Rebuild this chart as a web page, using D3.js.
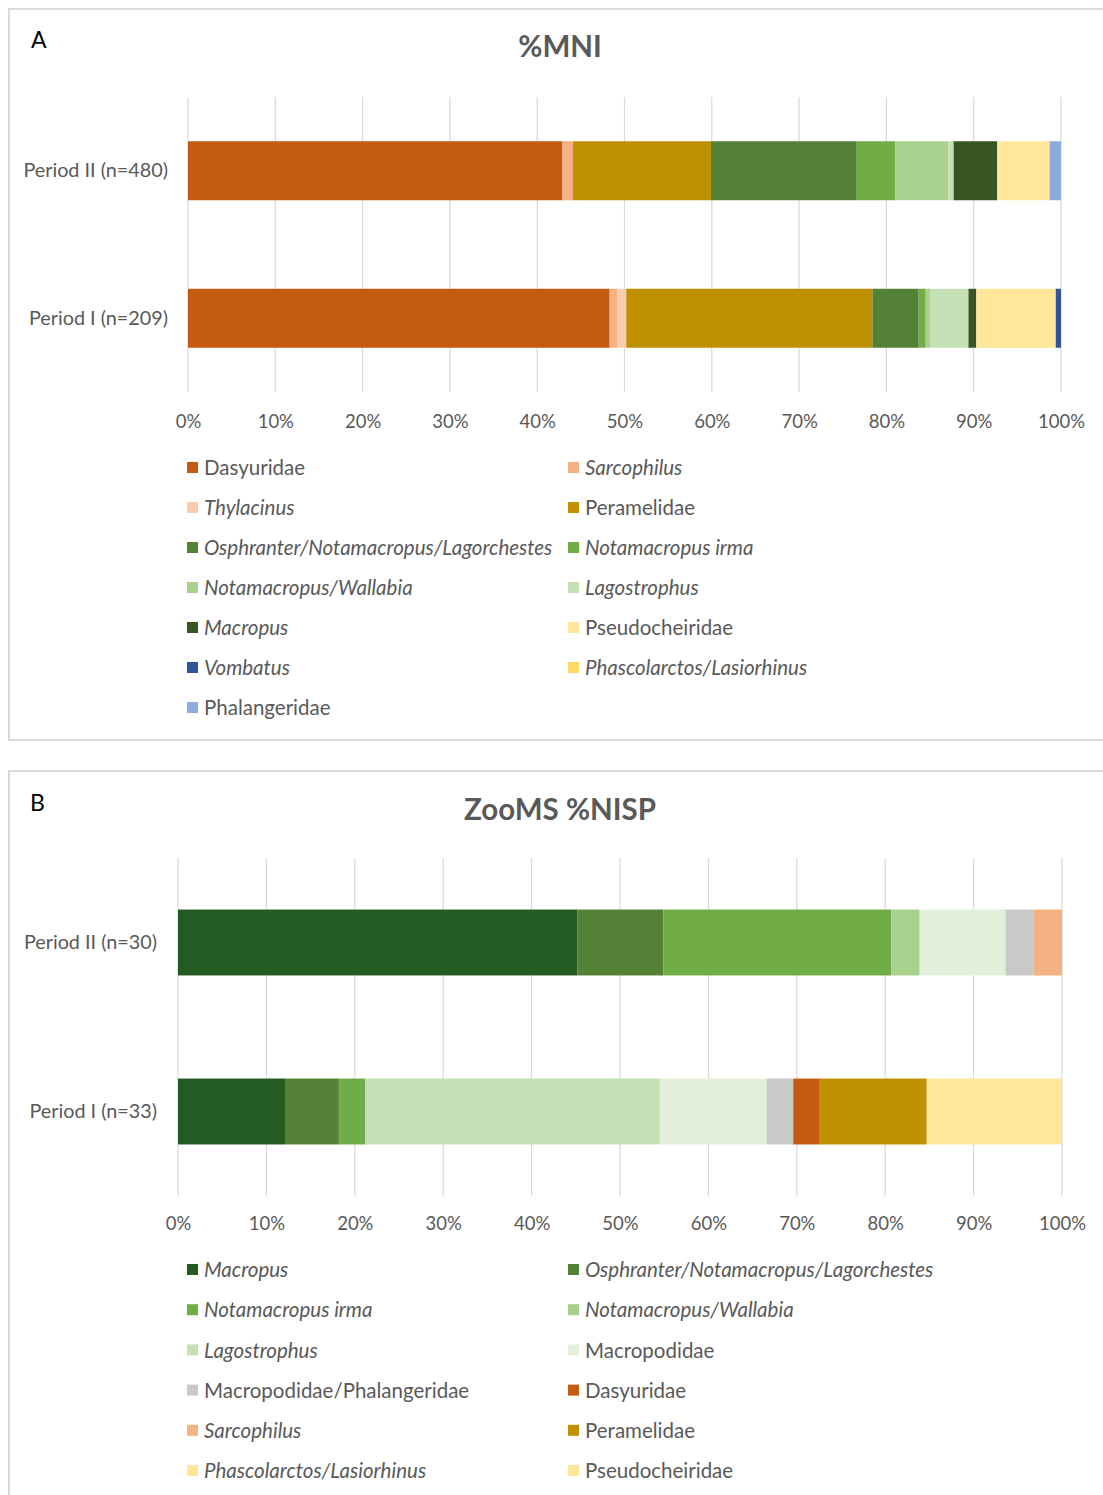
<!DOCTYPE html>
<html>
<head>
<meta charset="utf-8">
<script src="https://cdn.jsdelivr.net/npm/d3@7"></script>
<style>
  html, body { margin: 0; padding: 0; background: #ffffff; }
  svg { display: block; font-family: Lato, "Open Sans", sans-serif; }
</style>
</head>
<body>
<svg id="fig" width="1103" height="1495"></svg>
<script>
// ---- Panel A: %MNI ----
const taxaA = [
  "Dasyuridae", "Sarcophilus", "Thylacinus", "Peramelidae",
  "Osphranter/Notamacropus/Lagorchestes", "Notamacropus irma",
  "Notamacropus/Wallabia", "Lagostrophus", "Macropus", "Pseudocheiridae",
  "Vombatus", "Phascolarctos/Lasiorhinus", "Phalangeridae"
];
const italicA = [false, true, true, false, true, true, true, true, true, false, true, true, false];
const coloursA = [
  "#c55a11", "#f4b183", "#f8cbad", "#bf9000", "#538135", "#70ad47",
  "#a9d18e", "#c5e0b4", "#375623", "#ffe699", "#2f5597", "#ffd966", "#8faadc"
];
const periodsA = ["Period II (n=480)", "Period I (n=209)"];
const periodII_A = [42.9, 1.2, 0, 15.8, 16.7, 4.4, 6.1, 0.6, 5.0, 6.0, 0, 0, 1.3];
const periodI_A  = [48.3, 0.9, 1.0, 28.2, 5.3, 0.8, 0.5, 4.4, 0.9, 9.1, 0.6, 0, 0];

// ---- Panel B: ZooMS %NISP ----
const taxaB = [
  "Macropus", "Osphranter/Notamacropus/Lagorchestes", "Notamacropus irma",
  "Notamacropus/Wallabia", "Lagostrophus", "Macropodidae",
  "Macropodidae/Phalangeridae", "Dasyuridae", "Sarcophilus", "Peramelidae",
  "Phascolarctos/Lasiorhinus", "Pseudocheiridae"
];
const italicB = [true, true, true, true, true, false, false, false, true, false, true, false];
const coloursB = [
  "#245b23", "#538135", "#70ad47", "#a9d18e", "#c5e0b4", "#e2efda",
  "#c9c9c9", "#c55a11", "#f4b183", "#bf9000", "#ffe699", "#ffe699"
];
const periodsB = ["Period II (n=30)", "Period I (n=33)"];
const periodII_B = [45.2, 9.7, 25.8, 3.2, 0, 9.7, 3.2, 0, 3.2, 0, 0, 0];
const periodI_B  = [12.1, 6.1, 3.0, 0, 33.3, 12.1, 3.0, 3.0, 0, 12.1, 0, 15.3];

const tickValues = [0, 10, 20, 30, 40, 50, 60, 70, 80, 90, 100];
const tickLabels = ["0%", "10%", "20%", "30%", "40%", "50%", "60%", "70%", "80%", "90%", "100%"];

const svg = d3.select("#fig");
const TEXT = "#595959";

function panel(cfg) {
  const g = svg.append("g");

  // frame
  g.append("rect")
    .attr("x", cfg.frame[0]).attr("y", cfg.frame[1])
    .attr("width", cfg.frame[2]).attr("height", cfg.frame[3])
    .attr("fill", "#fff").attr("stroke", "#d9d9d9").attr("stroke-width", 2);

  // panel letter
  g.append("text").attr("x", cfg.letterPos[0]).attr("y", cfg.letterPos[1])
    .attr("font-size", 23).attr("fill", "#000").text(cfg.letter);

  // title
  g.append("text").attr("x", cfg.titlePos[0]).attr("y", cfg.titlePos[1])
    .attr("text-anchor", "middle").attr("font-size", 29.5).attr("font-weight", 700)
    .attr("fill", TEXT).text(cfg.title);

  const x = d3.scaleLinear().domain([0, 100]).range([cfg.x0, cfg.x1]);
  const y = d3.scaleBand().domain(cfg.periods).range([cfg.y0, cfg.y1]).paddingInner(cfg.pad).paddingOuter(cfg.pad / 2);

  // gridlines
  g.append("g").selectAll("line").data(tickValues).join("line")
    .attr("x1", d => x(d)).attr("x2", d => x(d))
    .attr("y1", cfg.y0).attr("y2", cfg.y1)
    .attr("stroke", "#d9d9d9").attr("stroke-width", 1.2);

  // x axis labels
  const xAxis = d3.axisBottom(x).tickValues(tickValues)
    .tickFormat((d, i) => tickLabels[i]).tickSize(0).tickPadding(0);
  const ax = g.append("g").attr("transform", `translate(0,${cfg.tickY})`).call(xAxis);
  ax.select(".domain").remove();
  ax.selectAll("text").attr("font-size", 18.5).attr("fill", TEXT)
    .attr("font-family", "Lato, sans-serif").attr("dy", 0);

  // y axis labels
  const yAxis = d3.axisLeft(y).tickSize(0).tickPadding(0);
  const ay = g.append("g").attr("transform", `translate(${cfg.yLabelX},0)`).call(yAxis);
  ay.select(".domain").remove();
  ay.selectAll("text").attr("font-size", 19.8).attr("fill", TEXT)
    .attr("font-family", "Lato, sans-serif");

  // stacked bars
  const rows = cfg.periods.map((p, i) => {
    const o = { period: p };
    cfg.taxa.forEach((t, j) => { o[t] = cfg.values[i][j]; });
    return o;
  });
  const stacked = d3.stack().keys(cfg.taxa)(rows);
  g.append("g").selectAll("g").data(stacked).join("g")
    .attr("fill", (d, i) => cfg.colours[i])
    .selectAll("rect").data(d => d.filter(s => s[1] - s[0] > 0)).join("rect")
    .attr("x", d => x(d[0]))
    .attr("width", d => x(d[1]) - x(d[0]))
    .attr("y", d => y(d.data.period))
    .attr("height", y.bandwidth());

  // legend
  const leg = g.append("g");
  cfg.taxa.forEach((t, i) => {
    const col = i % 2, row = Math.floor(i / 2);
    const lx = cfg.legendX[col], ly = cfg.legendY + row * cfg.legendStep;
    leg.append("rect").attr("x", lx).attr("y", ly - 6).attr("width", 11).attr("height", 11)
      .attr("fill", cfg.colours[i]);
    leg.append("text").attr("x", lx + 17).attr("y", ly).attr("dy", "0.35em")
      .attr("font-size", 20.5).attr("fill", TEXT)
      .attr("font-style", cfg.italic[i] ? "italic" : "normal").text(t);
  });
}

panel({
  frame: [9, 9, 1110, 731], letter: "A", letterPos: [31, 48],
  title: "%MNI", titlePos: [560, 57],
  x0: 188, x1: 1061, y0: 97, y1: 392, pad: 0.6, tickY: 428, yLabelX: 168,
  periods: periodsA, taxa: taxaA, colours: coloursA, italic: italicA,
  values: [periodII_A, periodI_A],
  legendX: [187, 568], legendY: 468, legendStep: 40
});

panel({
  frame: [9, 771, 1110, 740], letter: "B", letterPos: [30, 811],
  title: "ZooMS %NISP", titlePos: [560, 820],
  x0: 178, x1: 1062, y0: 858, y1: 1196, pad: 0.61, tickY: 1230, yLabelX: 157,
  periods: periodsB, taxa: taxaB, colours: coloursB, italic: italicB,
  values: [periodII_B, periodI_B],
  legendX: [187, 568], legendY: 1270, legendStep: 40.2
});
</script>
</body>
</html>
